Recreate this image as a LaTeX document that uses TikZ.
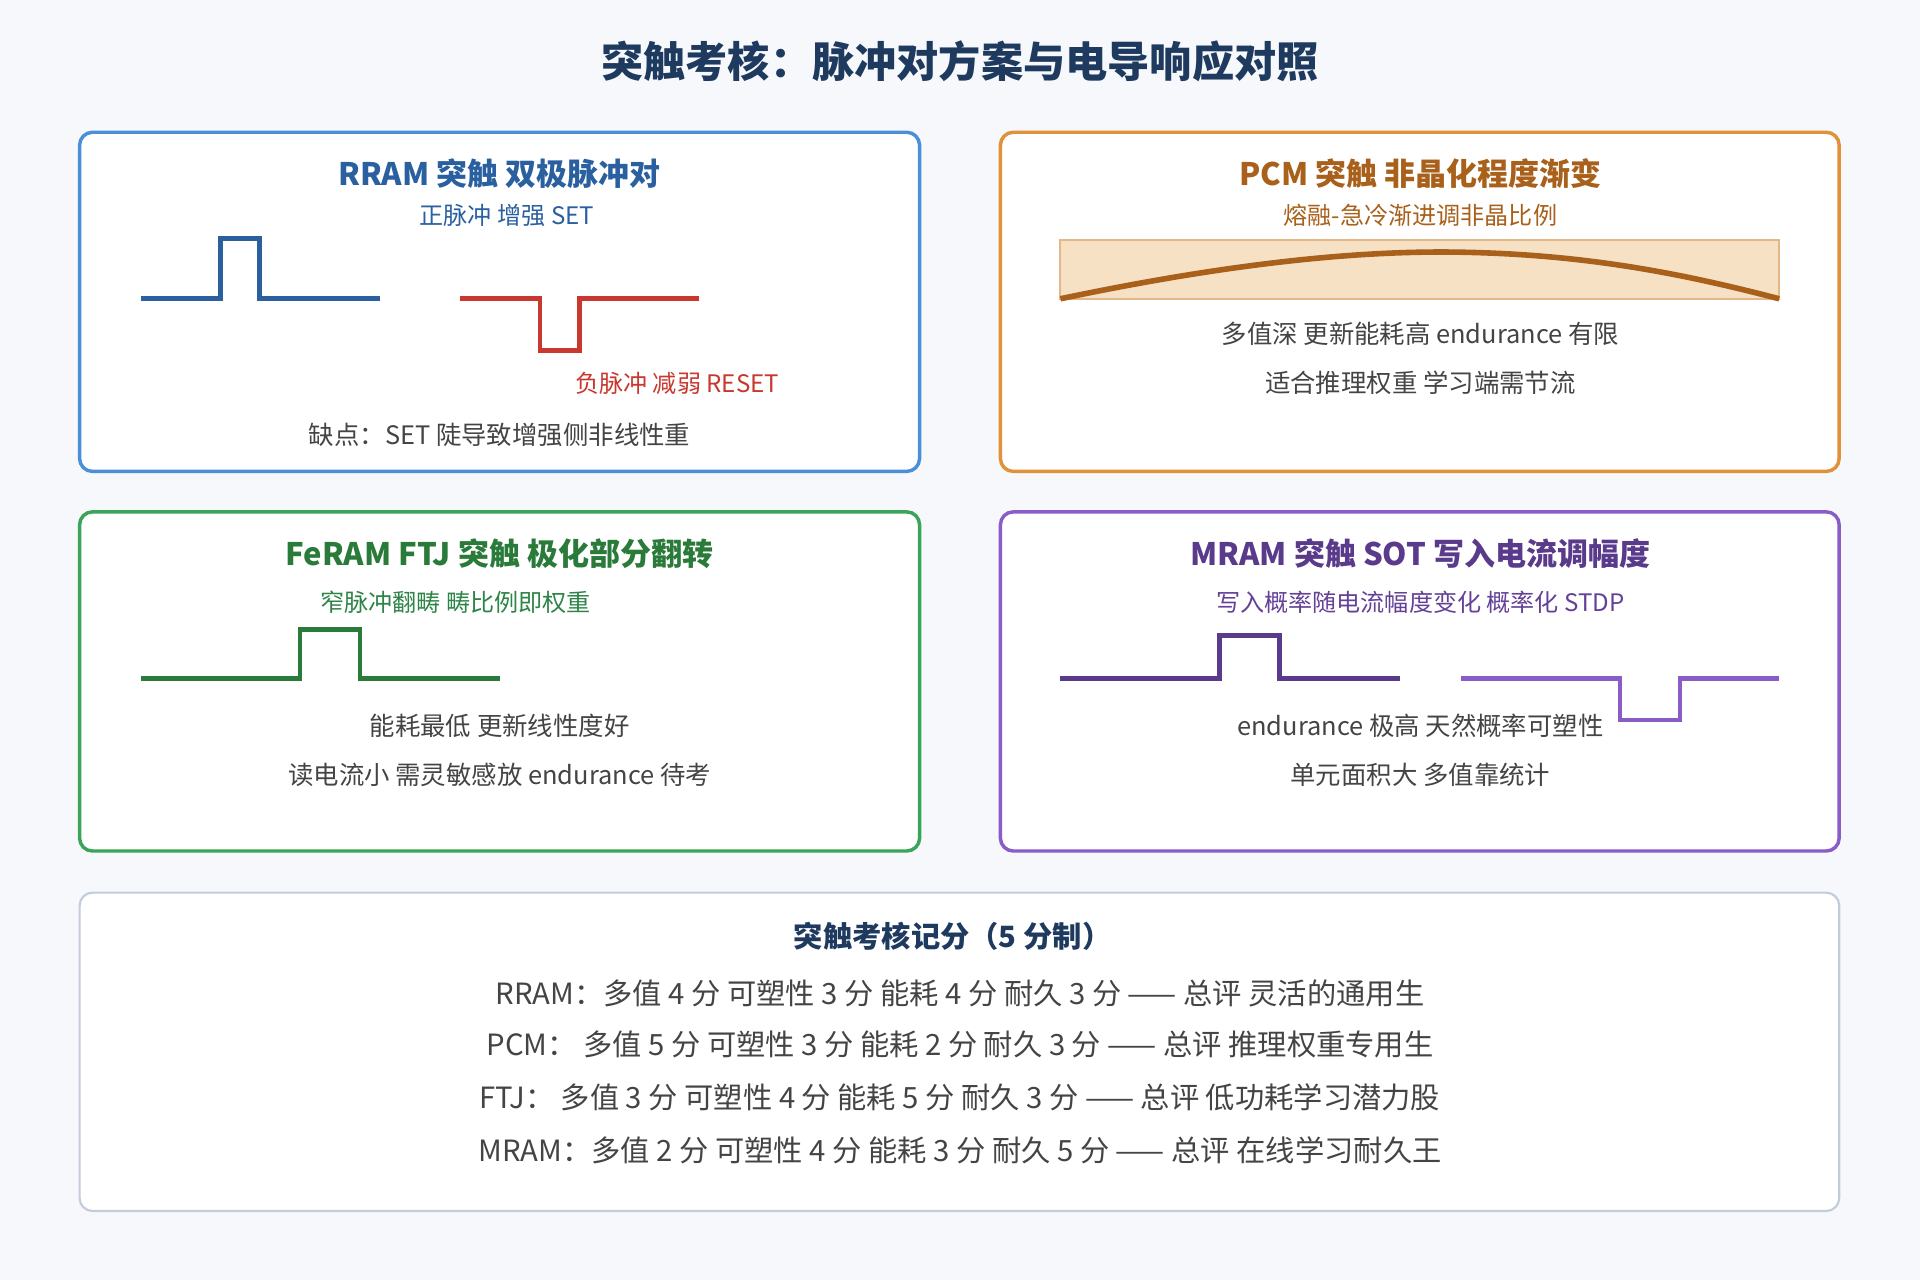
\documentclass[tikz,border=0pt]{standalone}
\usepackage{fontspec}
\setmainfont{Noto Sans CJK SC}
\begin{document}
\begin{tikzpicture}[x=0.01cm,y=-0.01cm,
 box/.style={rounded corners=3pt,fill=white,line width=0.8pt},
 hd/.style={font=\bfseries\fontsize{7.2}{8}\selectfont},
 sub/.style={font=\fontsize{5.6}{7}\selectfont},
 txt/.style={font=\fontsize{5.9}{7}\selectfont,text=txtgray},
 sc/.style={font=\fontsize{6.8}{8}\selectfont,text=txtgray},
 pulse/.style={line width=1.1pt}]
\definecolor{bg}{HTML}{F6F8FB}
\definecolor{navy}{HTML}{1F3A5F}
\definecolor{txtgray}{HTML}{444444}
\definecolor{bblue}{HTML}{4A90D9}\definecolor{dblue}{HTML}{2A5FA0}
\definecolor{bora}{HTML}{E0913A}\definecolor{dora}{HTML}{A8601A}
\definecolor{bgre}{HTML}{3AA55A}\definecolor{dgre}{HTML}{2A7A3A}
\definecolor{bpur}{HTML}{8A5CC8}\definecolor{dpur}{HTML}{5A3A8A}
\definecolor{red1}{HTML}{C8382E}
\definecolor{tan}{HTML}{F7E1C4}\definecolor{tanb}{HTML}{E2B888}
\definecolor{gbord}{HTML}{C3CCDA}
\fill[bg] (0,0) rectangle (1568,1045);
\useasboundingbox (0,0) rectangle (1568,1045);
\node[font=\bfseries\fontsize{9.8}{11}\selectfont,text=navy] (title) at (784,50) {突触考核：脉冲对方案与电导响应对照};
% RRAM
\draw[box,draw=bblue] (65,108) rectangle (751,385);
\node[hd,text=dblue] (h1) at (408,142) {RRAM 突触 双极脉冲对};
\node[sub,text=dblue] (s1) at (414,176) {正脉冲 增强 SET};
\draw[pulse,draw=dblue] (115,244)--(180,244)--(180,195)--(212,195)--(212,244)--(310,244);
\draw[pulse,draw=red1] (376,244)--(441,244)--(441,286)--(473,286)--(473,244)--(571,244);
\node[sub,text=red1] (r1) at (553,313) {负脉冲 减弱 RESET};
\node[txt] (t1) at (408,355) {缺点：SET 陡导致增强侧非线性重};
% PCM
\draw[box,draw=bora] (817,108) rectangle (1502,385);
\node[hd,text=dora] (h2) at (1160,142) {PCM 突触 非晶化程度渐变};
\node[sub,text=dora] (s2) at (1160,176) {熔融-急冷渐进调非晶比例};
\draw[fill=tan,draw=tanb,line width=0.5pt] (866,196) rectangle (1453,244);
\draw[line width=1.3pt,draw=dora] (866,244) .. controls (990,218) and (1100,204) .. (1195,206) .. controls (1300,208) and (1380,225) .. (1453,244);
\node[txt] (t2a) at (1160,273) {多值深 更新能耗高 endurance 有限};
\node[txt] (t2b) at (1160,313) {适合推理权重 学习端需节流};
% FeRAM
\draw[box,draw=bgre] (65,418) rectangle (751,695);
\node[hd,text=dgre] (h3) at (408,452) {FeRAM FTJ 突触 极化部分翻转};
\node[sub,text=bgre!80!black] (s3) at (372,492) {窄脉冲翻畴 畴比例即权重};
\draw[pulse,draw=dgre] (115,554)--(245,554)--(245,514)--(294,514)--(294,554)--(408,554);
\node[txt] (t3a) at (408,593) {能耗最低 更新线性度好};
\node[txt] (t3b) at (408,633) {读电流小 需灵敏感放 endurance 待考};
% MRAM
\draw[box,draw=bpur] (817,418) rectangle (1502,695);
\node[hd,text=dpur] (h4) at (1160,452) {MRAM 突触 SOT 写入电流调幅度};
\node[sub,text=dpur!80!bpur] (s4) at (1160,492) {写入概率随电流幅度变化 概率化 STDP};
\draw[pulse,draw=dpur] (866,554)--(996,554)--(996,519)--(1045,519)--(1045,554)--(1143,554);
\draw[pulse,draw=bpur] (1193,554)--(1323,554)--(1323,588)--(1372,588)--(1372,554)--(1453,554);
\node[txt] (t4a) at (1160,593) {endurance 极高 天然概率可塑性};
\node[txt] (t4b) at (1160,633) {单元面积大 多值靠统计};
% score
\draw[box,draw=gbord,line width=0.5pt] (65,729) rectangle (1502,989);
\node[text=navy,font=\bfseries\fontsize{6.8}{8}\selectfont] (h5) at (778,765) {突触考核记分（5 分制）};
\node[sc] (l1) at (784,811) {RRAM：多值 4 分 可塑性 3 分 能耗 4 分 耐久 3 分 —— 总评 灵活的通用生};
\node[sc] (l2) at (784,853) {PCM：\ 多值 5 分 可塑性 3 分 能耗 2 分 耐久 3 分 —— 总评 推理权重专用生};
\node[sc] (l3) at (784,896) {FTJ：\ 多值 3 分 可塑性 4 分 能耗 5 分 耐久 3 分 —— 总评 低功耗学习潜力股};
\node[sc] (l4) at (784,939) {MRAM：多值 2 分 可塑性 4 分 能耗 3 分 耐久 5 分 —— 总评 在线学习耐久王};
\end{tikzpicture}
\end{document}
